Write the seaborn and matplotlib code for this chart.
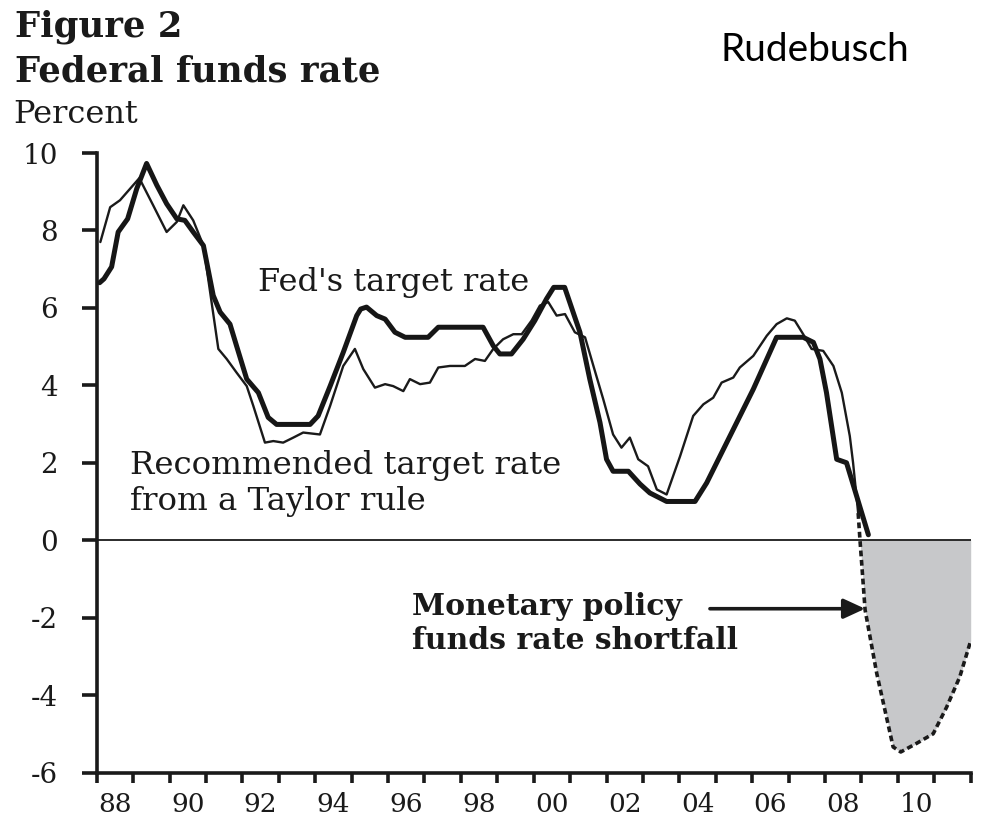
import matplotlib
matplotlib.use('Agg')
import matplotlib.pyplot as plt
import numpy as np
import seaborn as sns

# Fed's target rate (thick line)
fed_years = [1988.08, 1988.2, 1988.41, 1988.59, 1988.85, 1989.1, 1989.37, 1989.65, 1989.92,
             1990.2, 1990.42, 1990.65, 1990.93, 1991.2, 1991.39, 1991.66, 1991.84, 1992.12,
             1992.44, 1992.71, 1992.94, 1993.86, 1994.08, 1994.41, 1994.77, 1995.14, 1995.25,
             1995.41, 1995.69, 1995.92, 1996.19, 1996.47, 1997.1, 1997.38, 1998.61, 1998.89,
             1999.07, 1999.39, 1999.71, 2000.03, 2000.35, 2000.55, 2000.85, 2001.27, 2001.54,
             2001.82, 2002.0, 2002.18, 2002.6, 2002.92, 2003.19, 2003.65, 2004.43, 2004.75,
             2005.39, 2006.03, 2006.67, 2007.4, 2007.68, 2007.86, 2008.04, 2008.32, 2008.59,
             2009.19]
fed_rate = [6.65, 6.75, 7.06, 7.96, 8.3, 9.08, 9.73, 9.17, 8.69,
            8.3, 8.26, 7.96, 7.61, 6.32, 5.89, 5.58, 5.02, 4.16,
            3.81, 3.17, 2.99, 2.99, 3.21, 3.98, 4.85, 5.8, 5.97,
            6.02, 5.8, 5.71, 5.37, 5.24, 5.24, 5.5, 5.5, 5.02,
            4.81, 4.81, 5.19, 5.67, 6.23, 6.53, 6.53, 5.37, 4.16,
            3.04, 2.09, 1.78, 1.78, 1.45, 1.22, 1.0, 1.0, 1.48,
            2.69, 3.9, 5.24, 5.24, 5.11, 4.68, 3.81, 2.09, 2.0,
            0.14]

# Taylor rule recommendation (thin line)
taylor_years = [1988.1, 1988.37, 1988.64, 1989.17, 1989.55, 1989.92, 1990.2, 1990.38, 1990.65,
                1990.93, 1991.34, 1991.57, 1991.84, 1992.12, 1992.3, 1992.62, 1992.85, 1993.12,
                1993.4, 1993.67, 1994.13, 1994.41, 1994.77, 1995.09, 1995.32, 1995.64, 1995.92,
                1996.14, 1996.42, 1996.6, 1996.88, 1997.15, 1997.38, 1997.7, 1998.11, 1998.39,
                1998.66, 1998.89, 1999.16, 1999.44, 1999.67, 1999.94, 2000.17, 2000.4, 2000.63,
                2000.86, 2001.13, 2001.41, 2001.64, 2001.91, 2002.18, 2002.41, 2002.64, 2002.87,
                2003.14, 2003.38, 2003.65, 2004.02, 2004.38, 2004.66, 2004.93, 2005.16, 2005.48,
                2005.66, 2006.03, 2006.4, 2006.67, 2006.95, 2007.17, 2007.4, 2007.63, 2007.95,
                2008.23, 2008.46, 2008.68, 2008.77, 2008.91]
taylor_rate = [7.7, 8.6, 8.78, 9.35, 8.65, 7.96, 8.22, 8.65, 8.26,
               7.61, 4.94, 4.68, 4.33, 3.98, 3.47, 2.52, 2.56, 2.52,
               2.65, 2.78, 2.73, 3.47, 4.5, 4.94, 4.42, 3.94, 4.03,
               3.98, 3.85, 4.16, 4.03, 4.07, 4.46, 4.5, 4.5, 4.68,
               4.63, 4.94, 5.19, 5.32, 5.32, 5.67, 6.06, 6.15, 5.8,
               5.84, 5.37, 5.24, 4.5, 3.64, 2.73, 2.39, 2.65, 2.09,
               1.91, 1.31, 1.18, 2.17, 3.21, 3.51, 3.68, 4.07, 4.2,
               4.46, 4.76, 5.28, 5.58, 5.73, 5.67, 5.32, 4.94, 4.89,
               4.5, 3.81, 2.69, 2.0, 0.7]

# projected Taylor rule below zero (dashed)
gap_years = [2008.91, 2008.96, 2009.1, 2009.42, 2009.87, 2010.08, 2010.51, 2010.97, 2011.34,
             2011.7, 2012.0]
gap_rate = [0.7, 0.0, -1.8, -3.44, -5.34, -5.47, -5.25, -5.0, -4.31, -3.53, -2.6]

year_ticks = list(range(1988, 2013))
x_label_pos = [1988.5, 1990.5, 1992.5, 1994.5, 1996.5, 1998.5, 2000.5, 2002.5, 2004.5,
               2006.5, 2008.5, 2010.5]
x_labels = ['88', '90', '92', '94', '96', '98', '00', '02', '04', '06', '08', '10']
y_ticks = [-6, -4, -2, 0, 2, 4, 6, 8, 10]
y_labels = ['-6', '-4', '-2', '0', '2', '4', '6', '8', '10']

sns.set_style('white')
plt.rcParams['font.family'] = ['DejaVu Serif']

W, H = 981, 825
fig = plt.figure(figsize=(W / 100, H / 100), dpi=100)
ax = fig.add_axes([96.7 / W, 1 - 772.5 / H, 874.0 / W, 619.5 / H])

ax.axhline(0, color='#1a1a1a', lw=1.3, zorder=1)

g = np.array(gap_rate)
ax.fill_between(gap_years, g, 0, where=g <= 0, interpolate=True,
                color='#c7c8ca', lw=0, zorder=0)

sns.lineplot(x=gap_years, y=gap_rate, ax=ax, color='#1a1a1a', lw=2.6,
             linestyle=(0, (1.6, 1.0)), sort=False, estimator=None, zorder=2)
sns.lineplot(x=taylor_years, y=taylor_rate, ax=ax, color='#1a1a1a', lw=1.7,
             sort=False, estimator=None, zorder=3)
sns.lineplot(x=fed_years, y=fed_rate, ax=ax, color='#161616', lw=3.6,
             sort=False, estimator=None, zorder=4)

ax.set_xlim(1988, 2012)
ax.set_ylim(-6, 10)
ax.set_xlabel('')
ax.set_ylabel('')

ax.set_xticks(year_ticks)
ax.set_xticklabels([])
ax.set_xticks(x_label_pos, minor=True)
ax.set_xticklabels(x_labels, minor=True)
ax.set_yticks(y_ticks)
ax.set_yticklabels(y_labels)

ax.tick_params(axis='x', which='major', direction='out', length=7.5, width=2.6,
               color='#1a1a1a', bottom=True)
ax.tick_params(axis='x', which='minor', length=0, pad=14, labelsize=19,
               labelcolor='#1a1a1a')
ax.tick_params(axis='y', direction='out', length=11, width=2.6, pad=17,
               labelsize=20, color='#1a1a1a', labelcolor='#1a1a1a', left=True)

for side in ['top', 'right']:
    ax.spines[side].set_visible(False)
for side in ['left', 'bottom']:
    ax.spines[side].set_linewidth(2.6)
    ax.spines[side].set_color('#1a1a1a')

# labels inside the plot
ax.text(1992.43, 6.44, "Fed's target rate", fontsize=23, color='#1a1a1a', va='baseline')
ax.text(1988.91, 1.72, 'Recommended target rate', fontsize=23.3, color='#1a1a1a', va='baseline')
ax.text(1988.91, 0.79, 'from a Taylor rule', fontsize=23.3, color='#1a1a1a', va='baseline')
ax.text(1996.66, -1.93, 'Monetary policy', fontsize=21.5, fontweight='bold',
        color='#1a1a1a', va='baseline')
ax.text(1996.66, -2.8, 'funds rate shortfall', fontsize=21.5, fontweight='bold',
        color='#1a1a1a', va='baseline')
ax.annotate('', xy=(2009.1, -1.77), xytext=(2004.84, -1.77),
            arrowprops=dict(arrowstyle='-|>,head_length=1.3,head_width=0.6',
                            color='#1a1a1a', lw=2.6, shrinkA=0, shrinkB=0))

# heading
fig.text(15 / W, 1 - 37 / H, 'Figure 2', fontsize=25.5, fontweight='bold',
         color='#1a1a1a', va='baseline')
fig.text(15 / W, 1 - 81 / H, 'Federal funds rate', fontsize=25.5, fontweight='bold',
         color='#1a1a1a', va='baseline')
fig.text(13 / W, 1 - 123 / H, 'Percent', fontsize=23, color='#1a1a1a', va='baseline')
fig.text(720 / W, 1 - 61 / H, 'Rudebusch', fontsize=28, family='Lato',
         color='black', va='baseline')

fig.savefig('out.png', dpi=100)
